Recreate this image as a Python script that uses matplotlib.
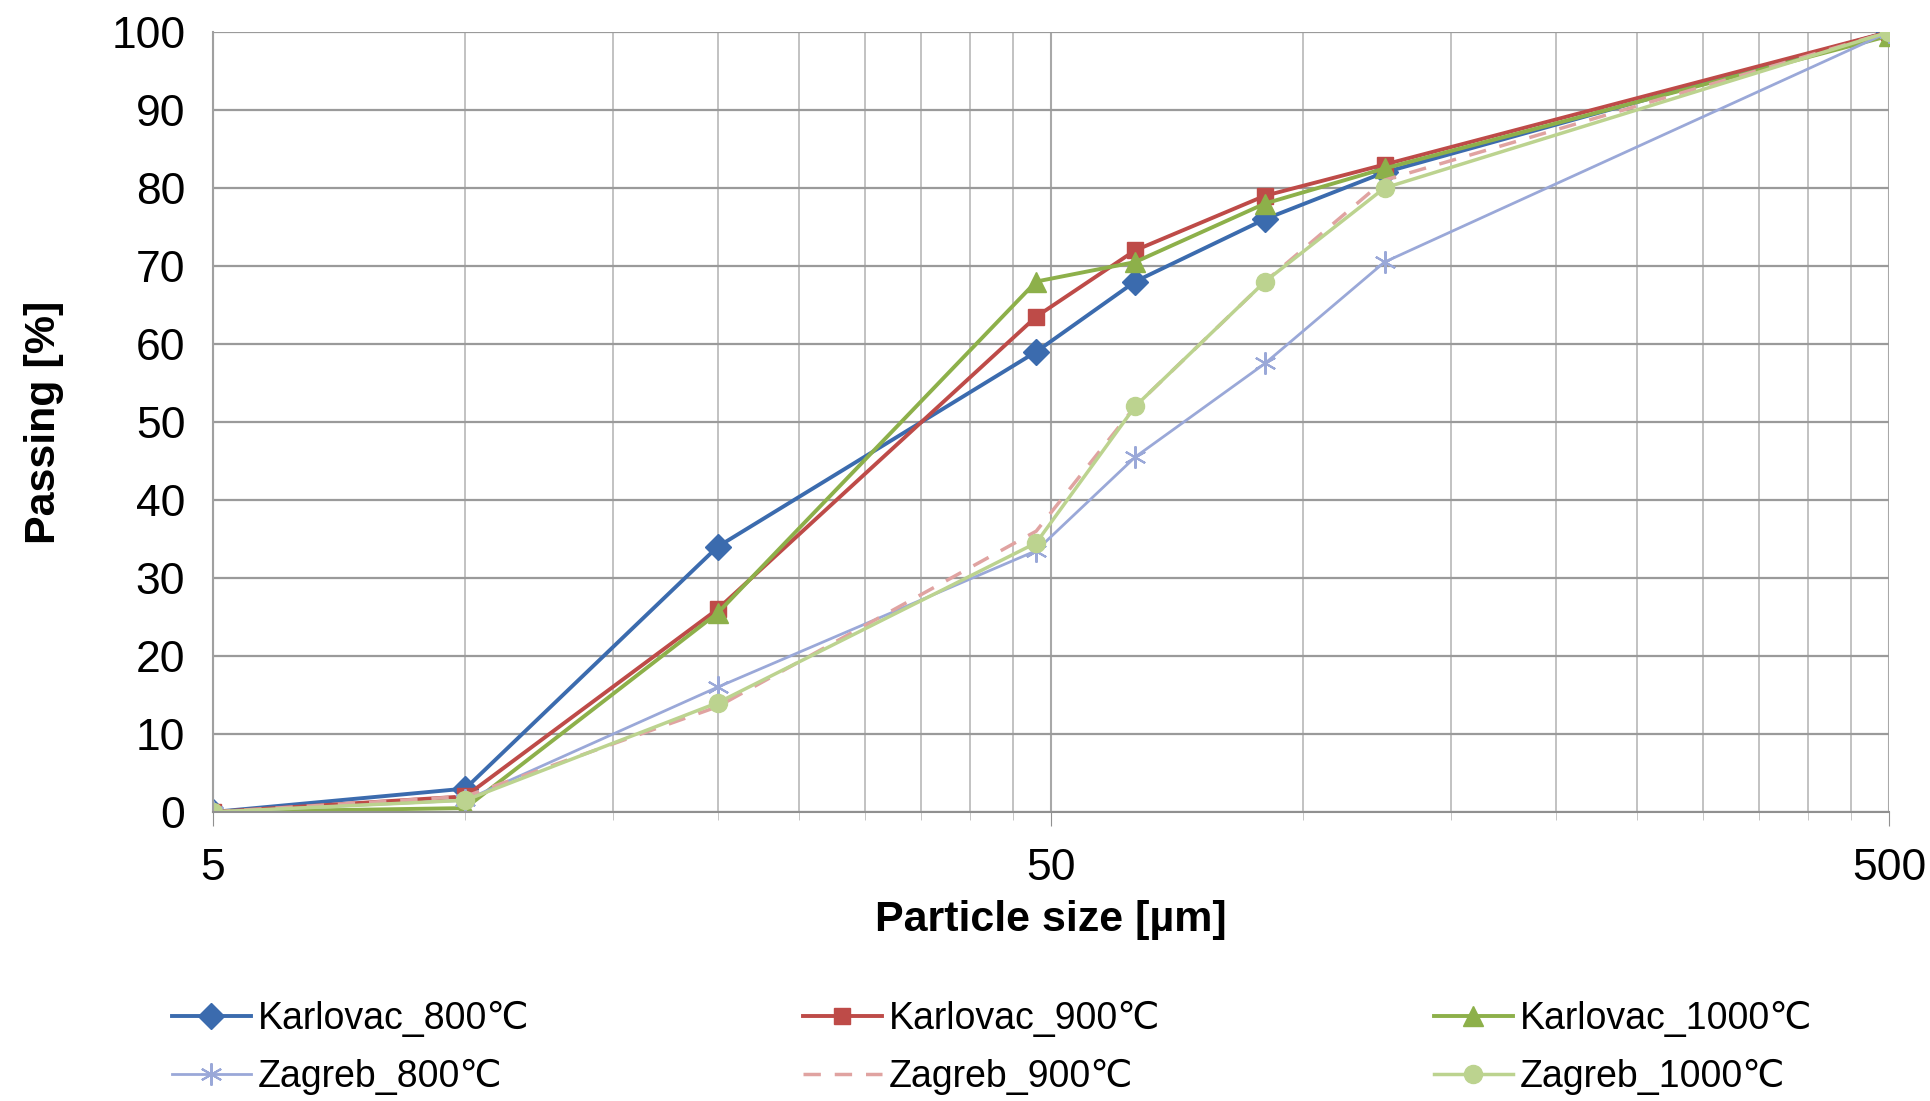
import matplotlib
matplotlib.use("Agg")
import matplotlib.pyplot as plt
from matplotlib.ticker import FixedLocator, NullFormatter

plt.rcParams['font.family'] = ['Liberation Sans', 'DejaVu Sans']

# particle size [um]
sizes = [5, 10, 20, 48, 63, 90, 125, 500]

karlovac_800 = [0, 3, 34, 59, 68, 76, 82, 100]
karlovac_900 = [0, 2, 26, 63.5, 72, 79, 83, 100]
karlovac_1000 = [0, 0.5, 25.5, 68, 70.5, 78, 82.5, 99.5]
zagreb_800 = [0, 1.5, 16, 33.5, 45.5, 57.5, 70.5, 100]
zagreb_900 = [0, 2, 13.5, 36, 52, 68, 81, 100]
zagreb_1000 = [0, 1.5, 14, 34.5, 52, 68, 80, 100]

x_ticks = [5, 50, 500]
y_ticks = list(range(0, 101, 10))
# Excel-style minor gridlines every 5 / 50 units
x_minor = [m * d for d in (1, 10) for m in range(10, 50, 5) if m * d not in (50, 500)]

fig = plt.figure(figsize=(19.3, 11.01), dpi=100)
ax = fig.add_axes([0.1104, 0.2625, 0.8684, 0.7085])

h1, = ax.plot(sizes, karlovac_800, color='#3b6bae', lw=2.8, marker='D', ms=13,
              label='Karlovac_800\u2103')
h2, = ax.plot(sizes, karlovac_900, color='#be4b48', lw=2.8, marker='s', ms=12,
              label='Karlovac_900\u2103')
h3, = ax.plot(sizes, karlovac_1000, color='#8db04a', lw=2.8, marker='^', ms=15,
              label='Karlovac_1000\u2103')
h4, = ax.plot(sizes, zagreb_800, color='#9aa8d8', lw=2, marker=(6, 2, 0), ms=16,
              mew=1.5, label='Zagreb_800\u2103')
h5, = ax.plot(sizes, zagreb_900, color='#e0a3a1', lw=2.5, ls=(0, (5, 4)),
              label='Zagreb_900\u2103')
h6, = ax.plot(sizes, zagreb_1000, color='#bcd38f', lw=2.5, marker='o', ms=13,
              label='Zagreb_1000\u2103')

ax.set_xscale('log')
ax.set_xlim(5, 500)
ax.set_ylim(0, 100)
ax.xaxis.set_major_locator(FixedLocator(x_ticks))
ax.set_xticklabels([str(t) for t in x_ticks])
ax.xaxis.set_minor_locator(FixedLocator(x_minor))
ax.xaxis.set_minor_formatter(NullFormatter())
ax.set_yticks(y_ticks)

ax.grid(True, which='major', axis='y', color='#9a9a9a', lw=1.6)
ax.grid(True, which='major', axis='x', color='#a8a8a8', lw=1.5)
ax.grid(True, which='minor', axis='x', color='#bdbdbd', lw=1.3)
ax.set_axisbelow(True)
for s in ['top', 'right']:
    ax.spines[s].set_visible(False)
ax.spines['left'].set_color('#a0a0a0')
ax.spines['bottom'].set_color('#909090')
ax.spines['left'].set_linewidth(1.5)
ax.spines['bottom'].set_linewidth(1.5)

ax.tick_params(axis='both', which='major', labelsize=32, length=0, pad=20)
ax.tick_params(axis='x', which='major', length=10, color='#909090', pad=16)
ax.tick_params(axis='x', which='minor', length=6, color='#bdbdbd')

ax.set_xlabel('Particle size [\u00b5m]', fontsize=31, fontweight='bold', labelpad=8)
ax.set_ylabel('Passing [%]', fontsize=31, fontweight='bold', labelpad=34)

# three legend columns placed like the original (row-wise Karlovac / Zagreb)
cols = [(h1, h4, 0.089), (h2, h5, 0.416), (h3, h6, 0.743)]
for a, b, xpos in cols:
    leg = fig.legend(handles=[a, b], loc='upper left', bbox_to_anchor=(xpos, 0.091),
                     frameon=False, fontsize=27, handlelength=2.1,
                     handletextpad=0.2, labelspacing=0.58, borderpad=0,
                     borderaxespad=0)

fig.savefig('out.png', dpi=100)
